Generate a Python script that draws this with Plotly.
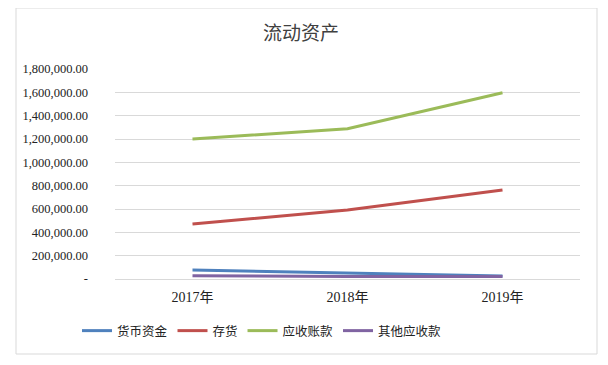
import plotly.graph_objects as go

categories = ["2017年", "2018年", "2019年"]
series_names = ["货币资金", "存货", "应收账款", "其他应收款"]
cash = [77000, 49000, 26000]
inventory = [471000, 591000, 763000]
receivables = [1200000, 1288000, 1597000]
other_receivables = [28000, 21000, 21000]
tick_vals = [0, 200000, 400000, 600000, 800000, 1000000, 1200000, 1400000, 1600000, 1800000]
tick_text = ["-", "200,000.00", "400,000.00", "600,000.00", "800,000.00", "1,000,000.00",
             "1,200,000.00", "1,400,000.00", "1,600,000.00", "1,800,000.00"]

colors = ["#4f81bd", "#c0504d", "#9bbb59", "#8064a2"]
data = [cash, inventory, receivables, other_receivables]

OFF = 8  # page body margin
W, H = 608 - OFF, 365 - OFF
# target plot area in window pixels
PX0, PX1, PY0, PY1 = 115, 580, 69, 279
L, R, T, B = PX0 - OFF, 608 - PX1, PY0 - OFF, 365 - PY1
pw, ph = PX1 - PX0, PY1 - PY0


def px(x):
    return (x - PX0) / pw


def py(y):
    return (PY1 - y) / ph


fig = go.Figure()
for name, vals, c in zip(series_names, data, colors):
    fig.add_trace(go.Scatter(x=categories, y=vals, name=name, mode="lines",
                             line=dict(color=c, width=3)))

font_fam = "Liberation Serif, Noto Sans CJK SC, serif"
fig.update_layout(
    width=W, height=H,
    margin=dict(l=L, r=R, t=T, b=B, autoexpand=False),
    paper_bgcolor="white", plot_bgcolor="white",
    title=dict(text="流动资产", x=(301 - OFF) / W, xanchor="center", y=1 - (33 - OFF) / H, yanchor="middle",
               font=dict(family=font_fam, size=19, color="#404040")),
    font=dict(family=font_fam, color="#222222"),
    xaxis=dict(showgrid=False, showline=False, ticks="", tickfont=dict(size=14, color="#222"),
               range=[-0.5, 2.5], ticklabelstandoff=8),
    yaxis=dict(range=[0, 1800000], tickvals=tick_vals, ticktext=tick_text, showgrid=True,
               gridcolor="#d9d9d9", gridwidth=1, zeroline=True, zerolinecolor="#d9d9d9",
               zerolinewidth=1, tickfont=dict(size=12.5, color="#222"), ticks="", ticklen=0,
               ticklabelstandoff=26),
    legend=dict(orientation="h", x=px(262), xanchor="center", y=py(331), yanchor="middle",
                font=dict(size=12.5, color="#222"), itemwidth=30, tracegroupgap=0),
    showlegend=True,
)
fig.add_shape(type="rect", xref="paper", yref="paper",
              x0=px(16), x1=px(597), y0=py(354), y1=py(8),
              line=dict(color="#d9d9d9", width=1), layer="below")
fig.write_html("out.html")
